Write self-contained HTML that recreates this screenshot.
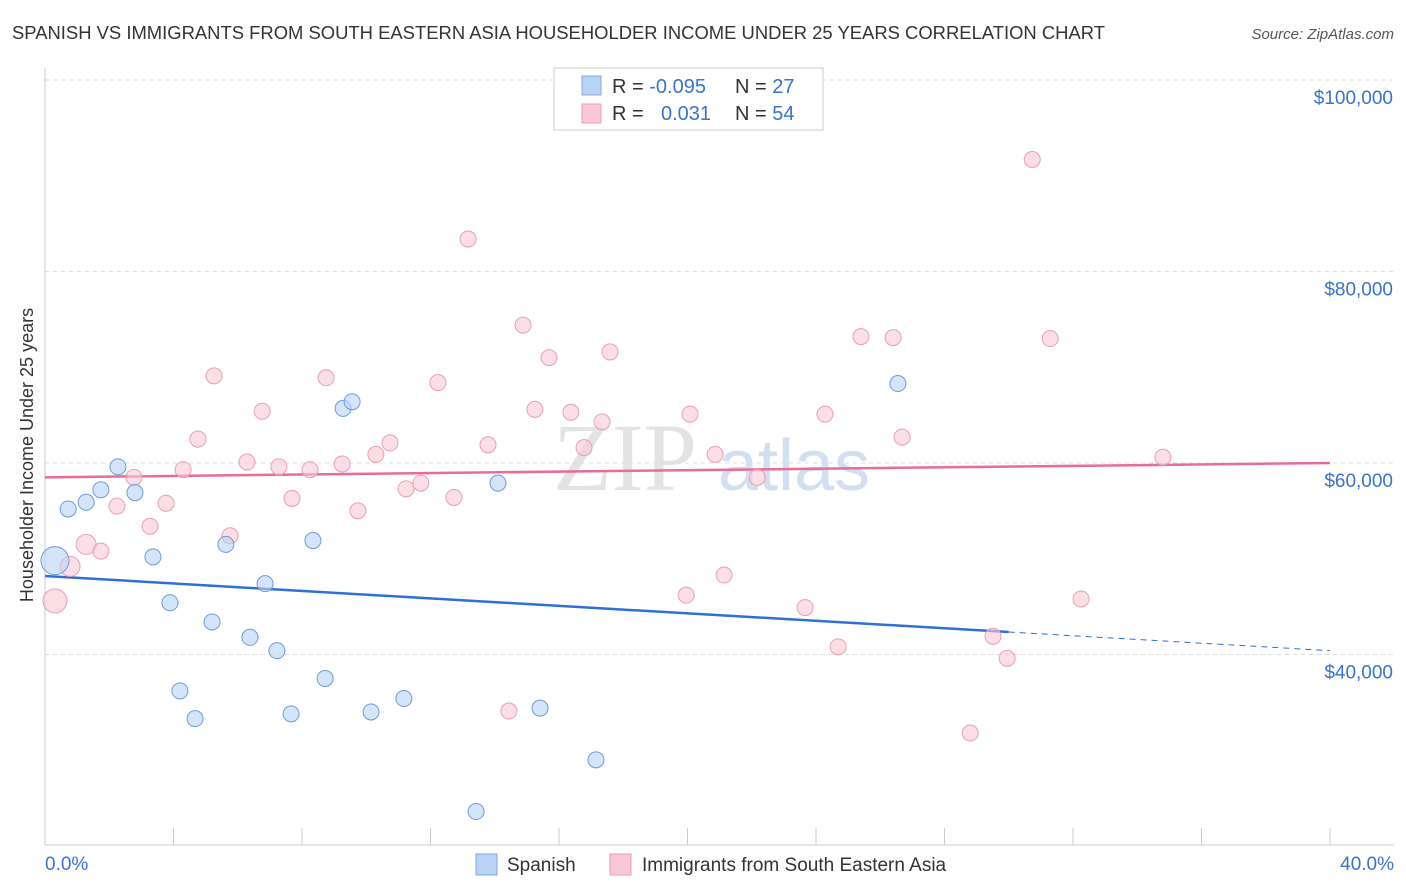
<!DOCTYPE html>
<html><head><meta charset="utf-8"><style>
body{margin:0;background:#fff;font-family:"Liberation Sans",sans-serif;}
#wrap{position:relative;width:1406px;height:892px;overflow:hidden;}
</style></head><body>
<div id="wrap">
<svg id="svg" width="1406" height="892" xmlns="http://www.w3.org/2000/svg">
<text x="12" y="39" font-size="18" fill="#333" textLength="1093" lengthAdjust="spacingAndGlyphs">SPANISH VS IMMIGRANTS FROM SOUTH EASTERN ASIA HOUSEHOLDER INCOME UNDER 25 YEARS CORRELATION CHART</text>
<text x="1394" y="39" font-size="15" fill="#555" font-style="italic" text-anchor="end">Source: ZipAtlas.com</text>
<text x="553" y="490" font-size="96" fill="#ddd" font-family="Liberation Serif,serif" opacity="0.8">ZIP</text>
<text x="718" y="490" font-size="72" fill="#c8d8ee" opacity="0.8">atlas</text>
<text transform="translate(33,455) rotate(-90)" font-size="18" fill="#333" text-anchor="middle">Householder Income Under 25 years</text>
<g id="grid"></g><g id="axes"></g><g id="lines"></g><g id="pts"></g>
<g>
<rect x="554" y="68" width="269" height="62" fill="#fff" stroke="#ccc"/>
<rect x="582" y="76" width="19" height="19" fill="#b9d3f5" stroke="#7fa8e0"/>
<rect x="582" y="104" width="19" height="19" fill="#f9c8d6" stroke="#eb9db4"/>
<text x="612" y="93" font-size="20" fill="#333">R = <tspan fill="#3a73c9">-0.095</tspan><tspan x="735">N = </tspan><tspan fill="#3a73c9">27</tspan></text>
<text x="612" y="120" font-size="20" fill="#333">R = <tspan x="661" fill="#3a73c9">0.031</tspan><tspan x="735">N = </tspan><tspan fill="#3a73c9">54</tspan></text>
</g>
<g>
<rect x="476" y="854" width="21" height="21" fill="#b9d3f5" stroke="#7fa8e0"/>
<text x="507" y="871" font-size="19" fill="#333">Spanish</text>
<rect x="610" y="854" width="21" height="21" fill="#f9c8d6" stroke="#eb9db4"/>
<text x="642" y="871" font-size="19" fill="#333">Immigrants from South Eastern Asia</text>
</g>
</svg></div>
<script>
const yTicks=[40000,60000,80000,100000];
const yTickLabels=["$40,000","$60,000","$80,000","$100,000"];
const xTickLabels=["0.0%","40.0%"];
const spanishX=[0.31,0.72,1.28,1.74,2.27,2.80,3.36,3.89,4.20,4.67,5.20,5.63,6.38,6.85,7.22,7.66,8.34,8.72,9.28,9.56,10.15,11.17,13.42,14.10,15.41,17.15,26.55];
const spanishY=[49800,55200,55900,57200,59600,56900,50200,45400,36200,33300,43400,51500,41800,47400,40400,33800,51900,37500,65700,66400,34000,35400,23600,57900,34400,29000,68300];
const immX=[0.31,0.78,1.28,1.74,2.24,2.77,3.27,3.77,4.30,4.76,5.26,5.76,6.29,6.76,7.28,7.69,8.25,8.75,9.25,9.74,10.30,10.74,11.24,11.70,12.23,12.73,13.17,13.79,14.44,14.88,15.25,15.69,16.37,16.78,17.34,17.59,19.96,20.08,20.86,21.14,22.17,23.66,24.28,24.69,25.40,26.40,26.68,28.80,29.51,29.95,30.73,31.29,32.25,34.80];
const immY=[45600,49200,51500,50800,55500,58500,53400,55800,59300,62500,69100,52400,60100,65400,59600,56300,59300,68900,59900,55000,60900,62100,57300,57900,68400,56400,83400,61900,34100,74400,65600,71000,65300,61600,64300,71600,46200,65100,60900,48300,58500,44900,65100,40800,73200,73100,62700,31800,41900,39600,91700,73000,45800,60600];
const spanishTrend=[48200,40400];
const immTrend=[58500,60000];
const NS="http://www.w3.org/2000/svg";
const X=p=>45+(p/40)*1285;
const Y=v=>80+(100000-v)/20000*191.5;
function mk(tag,attrs,parent){const e=document.createElementNS(NS,tag);for(const k in attrs)e.setAttribute(k,attrs[k]);document.getElementById(parent).appendChild(e);return e;}
yTicks.forEach((v,i)=>{
 const g=mk('line',{x1:45,x2:1394,y1:Y(v),y2:Y(v),stroke:'#ddd','stroke-dasharray':'4,4'},'grid');
 
 
 const t=mk('text',{x:1393,y:Y(v)+24,'font-size':19,fill:'#3a73c9','text-anchor':'end'},'axes');
 t.textContent=yTickLabels[i];
 
 
});
mk('line',{x1:45,x2:45,y1:68,y2:845,stroke:'#ccc'},'axes');
mk('line',{x1:45,x2:1394,y1:845,y2:845,stroke:'#ccc'},'axes');
for(let i=0;i<=10;i++){mk('line',{x1:X(i*4),x2:X(i*4),y1:828,y2:845,stroke:'#ccc'},'axes');}
[[0,45,'start'],[40,1394,'end']].forEach((d,i)=>{const t=mk('text',{x:d[1],y:870,'font-size':19,fill:'#3a73c9','text-anchor':d[2]},'axes');t.textContent=xTickLabels[i];

});
function tv(a,p){return a[0]+(a[1]-a[0])*p/40;}
let l=mk('line',{x1:X(0),y1:Y(tv(spanishTrend,0)),x2:X(30),y2:Y(tv(spanishTrend,30)),stroke:'#2f6fd6','stroke-width':2.5},'lines');


l=mk('line',{x1:X(30),y1:Y(tv(spanishTrend,30)),x2:X(40),y2:Y(tv(spanishTrend,40)),stroke:'#2f6fd6','stroke-width':1,'stroke-dasharray':'6,5'},'lines');


l=mk('line',{x1:X(0),y1:Y(tv(immTrend,0)),x2:X(40),y2:Y(tv(immTrend,40)),stroke:'#e86d96','stroke-width':2.5},'lines');


immX.forEach((x,i)=>{const r=i==0?12:(i<3?10:8);const c=mk('circle',{cx:X(x),cy:Y(immY[i]),r:r,fill:'#f9c8d6','fill-opacity':0.6,stroke:'#eb9db4','stroke-width':1},'pts');

});
spanishX.forEach((x,i)=>{const r=i==0?14:8;const c=mk('circle',{cx:X(x),cy:Y(spanishY[i]),r:r,fill:'#b9d3f5','fill-opacity':0.6,stroke:'#6f9ad8','stroke-width':1},'pts');

});
</script>
</body></html>
